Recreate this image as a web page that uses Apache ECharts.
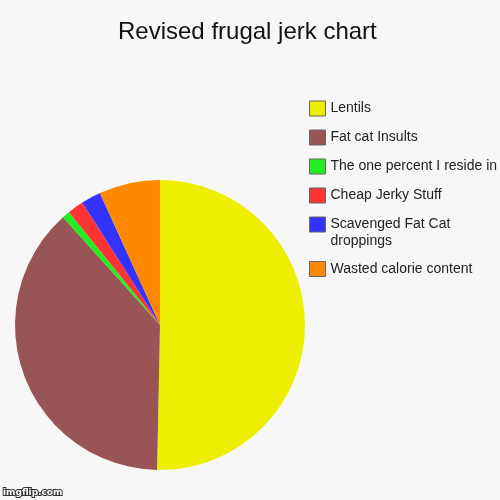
<!DOCTYPE html>
<html>
<head>
<meta charset="utf-8">
<script src="https://cdn.jsdelivr.net/npm/echarts@6/dist/echarts.min.js"></script>
<style>
  html, body { margin: 0; padding: 0; background: #f7f7f7; }
  #chart { width: 500px; height: 500px; }
</style>
</head>
<body>
<div id="chart"></div>
<script>
const categories = ['Lentils', 'Fat cat Insults', 'The one percent I reside in', 'Cheap Jerky Stuff', 'Scavenged Fat Cat\ndroppings', 'Wasted calorie content'];
const values = [50.3, 38.0, 0.86, 1.8, 2.2, 6.8];
const colors = ['#eeee00', '#995555', '#22ee22', '#ff3333', '#3333ff', '#ff8800'];

const pieData = categories.map((name, i) => ({
  name: name,
  value: values[i],
  itemStyle: { color: colors[i] }
}));

// the two-line entry is rich text; its box is trimmed to the first line so the
// first line sits beside the square and the second hangs below
const legendData = categories.map(name => name.indexOf('\n') >= 0
  ? { name: name, textStyle: { padding: [0, 0, -17, 0] } }
  : { name: name });

const option = {
  backgroundColor: '#f7f7f7',
  animation: false,
  title: {
    text: 'Revised frugal jerk chart',
    left: 118,
    top: 20,
    padding: 0,
    textStyle: { fontFamily: 'Liberation Sans', fontSize: 24, fontWeight: 'normal', color: '#111' }
  },
  legend: {
    orient: 'vertical',
    left: 309,
    top: 100,
    padding: 0,
    itemWidth: 16,
    itemHeight: 15,
    itemGap: 12,
    icon: 'rect',
    selectedMode: false,
    itemStyle: { borderColor: '#666', borderWidth: 1 },
    formatter: name => name.indexOf('\n') >= 0
      ? name.split('\n').map(s => '{w|' + s + '}').join('\n')
      : name,
    textStyle: {
      fontFamily: 'Liberation Sans', fontSize: 14, color: '#222', lineHeight: 17,
      rich: { w: { fontFamily: 'Liberation Sans', fontSize: 14, color: '#222', lineHeight: 17 } }
    },
    data: legendData
  },
  graphic: [{
    type: 'text',
    left: 2,
    top: 487,
    style: {
      text: 'imgflip.com',
      font: 'bold 9px "DejaVu Sans"',
      fill: '#fff',
      stroke: '#333',
      lineWidth: 2
    }
  }],
  series: [{
    type: 'pie',
    center: [160, 325],
    radius: 145,
    startAngle: 90,
    clockwise: true,
    label: { show: false },
    labelLine: { show: false },
    emphasis: { disabled: true },
    data: pieData
  }]
};

const chart = echarts.init(document.getElementById('chart'));
chart.setOption(option);
</script>
</body>
</html>
